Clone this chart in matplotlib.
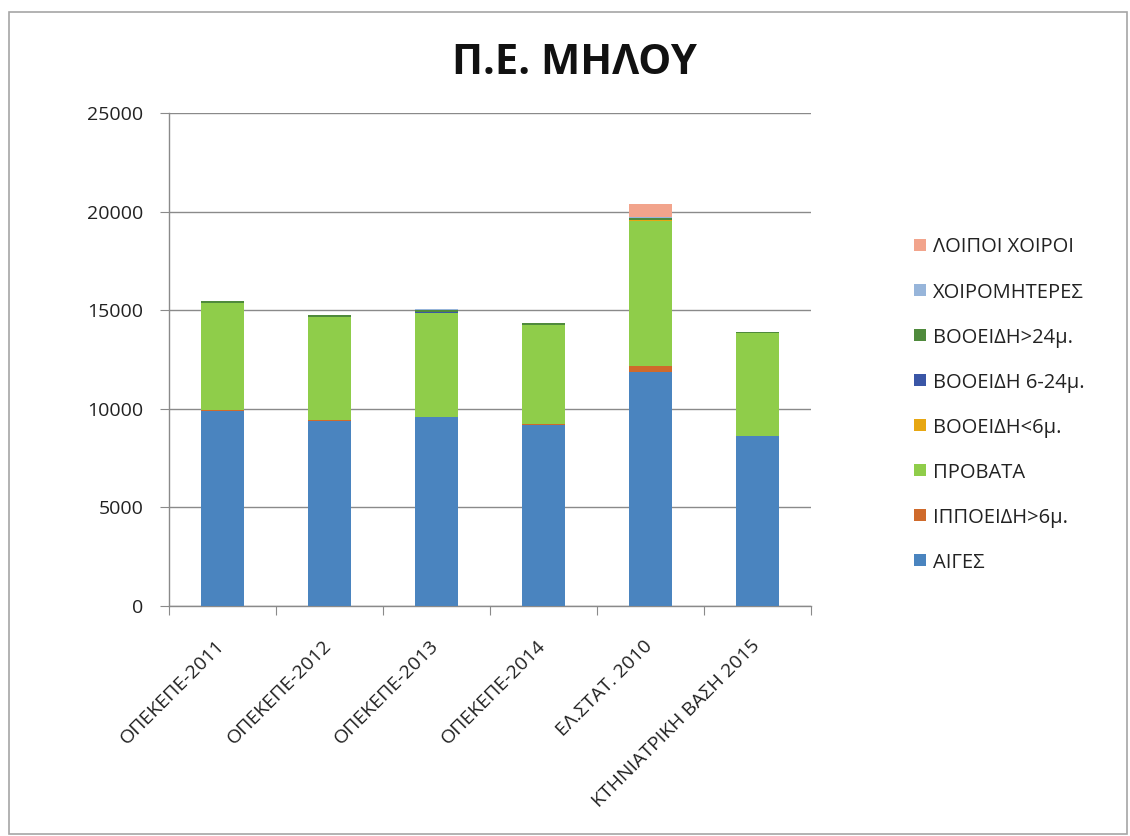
import matplotlib
matplotlib.use("Agg")
import matplotlib.pyplot as plt
from matplotlib.patches import Rectangle
import matplotlib.transforms as mtransforms
import numpy as np

plt.rcParams['font.family'] = ['Open Sans', 'DejaVu Sans']

title = "Π.Ε. ΜΗΛΟΥ"
categories = ["ΟΠΕΚΕΠΕ-2011", "ΟΠΕΚΕΠΕ-2012", "ΟΠΕΚΕΠΕ-2013",
              "ΟΠΕΚΕΠΕ-2014", "ΕΛ.ΣΤΑΤ. 2010", "ΚΤΗΝΙΑΤΡΙΚΗ ΒΑΣΗ 2015"]

# stacked series, bottom to top
aiges          = [9880, 9370, 9560, 9200, 11890, 8625]   # ΑΙΓΕΣ
ippoeidi       = [40, 40, 40, 40, 300, 0]                # ΙΠΠΟΕΙΔΗ>6μ.
provata        = [5450, 5240, 5250, 5020, 7340, 5210]    # ΠΡΟΒΑΤΑ
vooeidi_lt6    = [0, 0, 0, 0, 20, 0]                     # ΒΟΟΕΙΔΗ<6μ.
vooeidi_6_24   = [0, 0, 60, 0, 40, 0]                    # ΒΟΟΕΙΔΗ 6-24μ.
vooeidi_gt24   = [100, 110, 80, 110, 110, 80]            # ΒΟΟΕΙΔΗ>24μ.
xoirometeres   = [0, 0, 70, 0, 40, 0]                    # ΧΟΙΡΟΜΗΤΕΡΕΣ
loipoi_xoiroi  = [0, 0, 0, 0, 640, 0]                    # ΛΟΙΠΟΙ ΧΟΙΡΟΙ

series = [
    ("ΑΙΓΕΣ", aiges, "#4a84bf"),
    ("ΙΠΠΟΕΙΔΗ>6μ.", ippoeidi, "#cf6a2b"),
    ("ΠΡΟΒΑΤΑ", provata, "#8fcd4a"),
    ("ΒΟΟΕΙΔΗ<6μ.", vooeidi_lt6, "#e7a712"),
    ("ΒΟΟΕΙΔΗ 6-24μ.", vooeidi_6_24, "#3a56a6"),
    ("ΒΟΟΕΙΔΗ>24μ.", vooeidi_gt24, "#4f8a3c"),
    ("ΧΟΙΡΟΜΗΤΕΡΕΣ", xoirometeres, "#97b5da"),
    ("ΛΟΙΠΟΙ ΧΟΙΡΟΙ", loipoi_xoiroi, "#f2a48c"),
]

W, H = 1130, 836
fig = plt.figure(figsize=(W / 100, H / 100), dpi=100)
fig.patch.set_facecolor("white")

# outer chart frame
fig.patches.append(Rectangle((9 / W, 2 / H), (1127 - 9) / W, (834 - 12) / H,
                             transform=fig.transFigure, fill=False,
                             edgecolor="#a6a6a6", linewidth=1.2))

ax = fig.add_axes([169 / W, 1 - 606 / H, (811 - 169) / W, (606 - 113) / H])

x = np.arange(len(categories))
bottom = np.zeros(len(categories))
for name, vals, color in series:
    vals = np.array(vals, dtype=float)
    ax.bar(x, vals, width=0.4, bottom=bottom, color=color, label=name,
           zorder=3, linewidth=0)
    bottom += vals

ax.set_xlim(-0.5, len(categories) - 0.5)
ax.set_ylim(0, 25000)
ax.set_yticks(np.arange(0, 25001, 5000))
ax.yaxis.grid(True, color="#8a8a8a", linewidth=1.0, zorder=0)
ax.set_axisbelow(True)

for s in ["top", "right"]:
    ax.spines[s].set_visible(False)
for s in ["left", "bottom"]:
    ax.spines[s].set_color("#8a8a8a")
    ax.spines[s].set_linewidth(1.0)

ax.tick_params(axis="y", length=6.5, color="#8a8a8a", labelsize=14,
               labelcolor="#222222", pad=12)

# boundary ticks on x, labels at category centres
ax.set_xticks(np.arange(-0.5, len(categories), 1.0))
ax.set_xticklabels([])
ax.tick_params(axis="x", which="major", length=6.5, color="#8a8a8a")
ax.set_xticks(x, minor=True)
ax.set_xticklabels(categories, minor=True, rotation=45, ha="right",
                   va="top", rotation_mode="anchor", fontsize=14,
                   color="#222222")
ax.tick_params(axis="x", which="minor", length=0, pad=22)
offset = mtransforms.ScaledTranslation(-7 / 100, 0, fig.dpi_scale_trans)
for lbl in ax.get_xticklabels(minor=True):
    lbl.set_transform(lbl.get_transform() + offset)

fig.text(574 / W, 1 - 63 / H, title, ha="center", va="center",
         fontsize=30, fontweight="bold", color="#111111")

# legend column, top entry is the last stacked series
for i, (name, _, color) in enumerate(series[::-1]):
    yc = 245 + 45 * i
    fig.patches.append(Rectangle((914 / W, 1 - (yc + 6) / H), 12 / W, 12 / H,
                                 transform=fig.transFigure,
                                 facecolor=color, edgecolor="none"))
    fig.text(933 / W, 1 - yc / H, name, ha="left", va="center_baseline",
             fontsize=14.5, color="#222222")

fig.savefig("out.png", dpi=100, facecolor="white")
